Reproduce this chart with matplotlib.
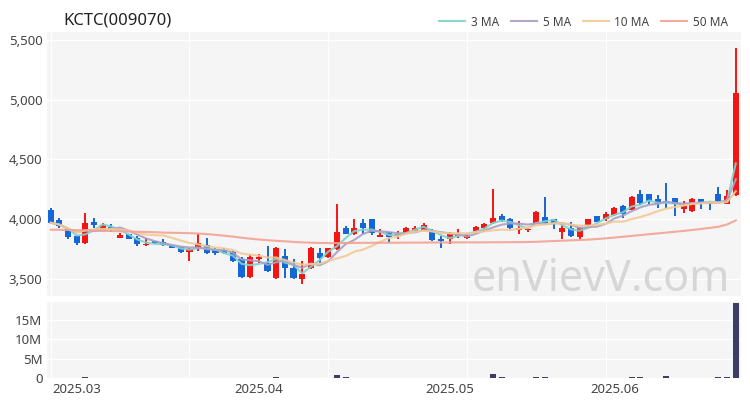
"""
plot.py — KCTC(009070) daily candles with moving averages and volume.
Saves out.png (750x400).
"""

import numpy as np
import pandas as pd
import matplotlib
matplotlib.use("Agg")
import matplotlib.pyplot as plt
import matplotlib.ticker as mticker

plt.rcParams["font.family"] = ["Noto Sans", "DejaVu Sans"]

# data

TITLE = "KCTC(009070)"

HOLIDAYS = ["2025-05-01", "2025-05-05", "2025-05-06", "2025-06-03", "2025-06-06"]
dates = [d for d in pd.bdate_range("2025-02-26", "2025-06-24")
         if d.strftime("%Y-%m-%d") not in HOLIDAYS]

opens = [4080, 3990, 3920, 3860, 3800, 3980, 3900, 3935, 3845, 3875,
         3840, 3780, 3815, 3805, 3775, 3765, 3725, 3760, 3780, 3745,
         3740, 3725, 3665, 3515, 3665, 3630, 3505, 3690, 3590, 3500,
         3590, 3715, 3680, 3750, 3925, 3880, 3965, 4000, 3855, 3890,
         3860, 3885, 3900, 3910, 3890, 3835, 3835, 3860, 3840, 3900,
         3925, 3965, 4025, 4000, 3910, 3910, 3970, 4015, 4000, 3890,
         3925, 3850, 3950, 4025, 4000, 4035, 4110, 4080, 4210, 4210,
         4170, 4150, 4175, 4085, 4070, 4165, 4145, 4210, 4130, 4200]
highs = [4090, 4010, 3930, 3870, 4050, 4010, 3970, 3960, 3885, 3880,
         3860, 3840, 3820, 3835, 3780, 3770, 3755, 3880, 3840, 3760,
         3760, 3730, 3680, 3700, 3705, 3775, 3765, 3750, 3670, 3650,
         3770, 3760, 3760, 4125, 3940, 4000, 4000, 4005, 3915, 3895,
         3905, 3935, 3945, 3965, 3915, 3860, 3895, 3915, 3880, 3940,
         3965, 4250, 4040, 4010, 3985, 3935, 4065, 4185, 4005, 3960,
         3975, 3935, 4005, 4030, 4060, 4100, 4115, 4190, 4245, 4215,
         4200, 4300, 4180, 4150, 4180, 4170, 4150, 4270, 4245, 5430]
lows = [3960, 3930, 3830, 3780, 3790, 3925, 3900, 3890, 3840, 3830,
        3775, 3775, 3795, 3775, 3755, 3720, 3650, 3730, 3705, 3700,
        3710, 3645, 3510, 3510, 3630, 3560, 3500, 3505, 3500, 3455,
        3580, 3630, 3675, 3740, 3875, 3870, 3875, 3870, 3850, 3805,
        3830, 3880, 3895, 3905, 3820, 3755, 3790, 3840, 3835, 3895,
        3920, 3960, 3975, 3920, 3875, 3890, 3965, 3960, 3915, 3830,
        3855, 3835, 3945, 3975, 3985, 4030, 4010, 4075, 4120, 4125,
        4090, 4090, 4025, 4050, 4060, 4085, 4075, 4145, 4125, 4195]
closes = [3970, 3940, 3850, 3800, 3970, 3950, 3950, 3915, 3865, 3835,
          3790, 3790, 3800, 3780, 3760, 3725, 3750, 3800, 3715, 3720,
          3715, 3650, 3515, 3680, 3680, 3565, 3755, 3590, 3505, 3545,
          3755, 3675, 3755, 3890, 3880, 3930, 3925, 3885, 3870, 3850,
          3880, 3925, 3930, 3955, 3825, 3820, 3880, 3880, 3870, 3935,
          3960, 4010, 3995, 3925, 3925, 3920, 4060, 3965, 3960, 3925,
          3860, 3925, 4000, 3978, 4040, 4090, 4045, 4185, 4135, 4150,
          4125, 4140, 4125, 4110, 4170, 4135, 4135, 4150, 4190, 5060]
volumes = [120e3, 90e3, 80e3, 70e3, 150e3, 60e3, 50e3, 40e3, 50e3, 40e3,
           50e3, 40e3, 30e3, 40e3, 30e3, 40e3, 60e3, 80e3, 50e3, 40e3,
           40e3, 60e3, 120e3, 110e3, 50e3, 90e3, 150e3, 90e3, 80e3, 90e3,
           120e3, 80e3, 90e3, 750e3, 180e3, 120e3, 100e3, 110e3, 60e3, 60e3,
           50e3, 60e3, 50e3, 60e3, 80e3, 70e3, 60e3, 50e3, 40e3, 80e3,
           90e3, 950e3, 200e3, 120e3, 80e3, 60e3, 150e3, 180e3, 90e3, 80e3,
           80e3, 70e3, 90e3, 80e3, 90e3, 110e3, 90e3, 150e3, 130e3, 100e3,
           110e3, 500e3, 120e3, 80e3, 110e3, 90e3, 80e3, 250e3, 300e3, 19.3e6]
ma50 = [3912, 3911, 3910, 3908, 3906, 3905, 3903, 3901, 3899, 3897,
        3895, 3893, 3891, 3888, 3886, 3885, 3883, 3880, 3875, 3869,
        3862, 3854, 3845, 3837, 3830, 3824, 3819, 3815, 3810, 3806,
        3803, 3801, 3800, 3800, 3801, 3801, 3802, 3802, 3803, 3803,
        3803, 3804, 3804, 3804, 3805, 3805, 3805, 3806, 3806, 3806,
        3806, 3807, 3807, 3808, 3808, 3809, 3811, 3814, 3817, 3820,
        3823, 3826, 3829, 3834, 3840, 3846, 3853, 3860, 3867, 3874,
        3881, 3888, 3895, 3902, 3910, 3918, 3927, 3937, 3956, 3990]

MA_WINDOWS = [3, 5, 10]
MA_COLORS = {3: "#7fd3c9", 5: "#aa9ec6", 10: "#f2c994", 50: "#f3a292"}
UP_COLOR = "#f51414"
DOWN_COLOR = "#1566d6"
VOL_COLOR = "#3b3d66"
BG = "#f5f5f5"


def fmt_thousands(x, _):
    return f"{x:,.0f}"


def fmt_millions(x, _):
    return "0" if x == 0 else f"{x / 1e6:.0f}M"


def main():
    x = np.arange(len(dates))
    o, h, l, c = map(np.array, (opens, highs, lows, closes))
    up = c >= o
    colors = np.where(up, UP_COLOR, DOWN_COLOR)

    fig = plt.figure(figsize=(7.5, 4), dpi=100)
    ax = fig.add_axes([0.063, 0.26, 0.925, 0.66])
    axv = fig.add_axes([0.063, 0.055, 0.925, 0.19], sharex=ax)

    for a in (ax, axv):
        a.set_facecolor(BG)
        for s in a.spines.values():
            s.set_visible(False)
        a.tick_params(which="both", length=0, labelsize=9.5, labelcolor="#444444")
        a.grid(True, color="white", linewidth=1.0)
        a.set_axisbelow(True)

    # candles
    ax.vlines(x, l, h, colors=colors, linewidth=1.4, zorder=3)
    body = np.maximum(np.abs(c - o), 8)
    ax.bar(x, body, bottom=np.minimum(o, c), width=0.7, color=colors, zorder=4)

    # moving averages
    close_s = pd.Series(closes, dtype=float)
    for w in MA_WINDOWS:
        ax.plot(x, close_s.rolling(w, min_periods=1).mean(), color=MA_COLORS[w],
                linewidth=1.5, alpha=0.9, zorder=5, label=f"{w} MA")
    ax.plot(x, ma50, color=MA_COLORS[50], linewidth=1.5, alpha=0.9, zorder=5, label="50 MA")

    ax.set_ylim(3357, 5567)
    ax.set_yticks([3500, 4000, 4500, 5000, 5500])
    ax.yaxis.set_major_formatter(mticker.FuncFormatter(fmt_thousands))
    ax.tick_params(axis="x", which="both", labelbottom=False)

    ax.text(0.984, 0.02, "enVievV.com", transform=ax.transAxes, ha="right", va="baseline",
            fontsize=31, color="#d6d6d6", zorder=2)

    # volume
    axv.bar(x, volumes, width=0.7, color=VOL_COLOR, zorder=3)
    axv.set_ylim(0, 19.5e6)
    axv.set_yticks([0, 5e6, 10e6, 15e6])
    axv.yaxis.set_major_formatter(mticker.FuncFormatter(fmt_millions))

    month_pos = [i for i in range(len(dates)) if i == 0 or dates[i].month != dates[i - 1].month][1:]
    axv.set_xticks(month_pos)
    axv.set_xticklabels([dates[i].strftime("%Y.%m") for i in month_pos])
    axv.set_xticks(range(0, len(dates), 16), minor=True)
    for a in (ax, axv):
        a.grid(False, axis="x", which="major")
        a.grid(True, axis="x", which="minor", color="white", linewidth=0.8)
    axv.set_xlim(-0.4, len(dates) - 0.4)

    fig.text(0.084, 0.948, TITLE, fontsize=12, color="#222222", va="center")
    fig.legend(loc="center right", bbox_to_anchor=(0.985, 0.945), ncol=4, frameon=False,
               fontsize=8.5, handlelength=2.2, columnspacing=1.0, handletextpad=0.5,
               labelcolor="#444444")

    fig.savefig("out.png", dpi=100)
    plt.close(fig)


if __name__ == "__main__":
    main()
